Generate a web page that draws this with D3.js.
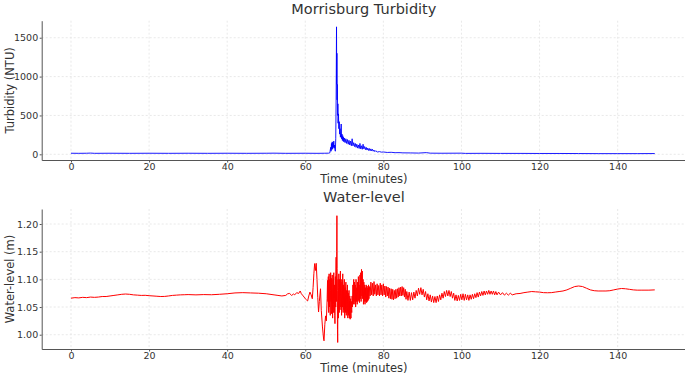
<!DOCTYPE html>
<html>
<head>
<meta charset="utf-8">
<script src="https://cdn.jsdelivr.net/npm/d3@7"></script>
<style>
  body { margin: 0; background: #fff; }
  svg text { font-family: "DejaVu Sans", sans-serif; fill: #333; }
</style>
</head>
<body>
<div id="chart"></div>
<script>
// Time ticks shared by both panels
var timeTicks = [0, 20, 40, 60, 80, 100, 120, 140];
var turbTicks = [0, 500, 1000, 1500];
var levelTicks = [1.00, 1.05, 1.10, 1.15, 1.20];

// Turbidity readings [minutes, NTU]
var turbidity = [
  [0,14],[2,13],[4,14],[5,16],[6,13],[10,14],[15,13],[20,14],[25,13],[30,14],[35,13],[40,14],[45,13],
  [50,14],[52,15],[55,13],[60,14],[63,13],[65,14],[66,15],[66.3,20],[66.5,90],[66.6,40],[66.7,140],
  [66.8,60],[66.9,160],[67.0,70],[67.1,150],[67.2,90],[67.3,170],[67.4,80],[67.5,120],[67.6,60],
  [67.7,40],[67.8,200],[67.9,700],[68.0,1640],[68.05,900],[68.1,1300],[68.15,700],[68.2,900],
  [68.3,500],[68.35,650],[68.4,400],[68.5,520],[68.6,330],[68.7,420],[68.8,260],[68.9,330],
  [69.0,220],[69.1,290],[69.2,390],[69.3,200],[69.4,260],[69.5,180],[69.6,240],[69.7,170],
  [69.8,220],[69.9,160],[70.0,210],[70.2,150],[70.4,200],[70.6,140],[70.8,190],[71.0,130],
  [71.2,180],[71.4,120],[71.6,170],[71.8,110],[72.0,200],[72.2,110],[72.4,150],[72.6,100],
  [72.8,140],[73.0,90],[73.2,130],[73.4,80],[73.6,120],[73.8,75],[74.0,140],[74.2,70],[74.4,110],
  [74.6,65],[74.8,130],[75.0,70],[75.2,100],[75.4,60],[75.6,90],[75.8,55],[76.0,80],[76.2,50],
  [76.4,75],[76.6,45],[76.8,70],[77.0,45],[77.2,65],[77.4,40],[77.6,55],[77.8,35],[78,45],
  [78.5,30],[79,35],[79.5,28],[80,30],[81,24],[82,26],[83,21],[84,22],[85,19],[87,18],[89,16],
  [91,22],[92,15],[95,14],[100,15],[101,12],[105,13],[110,12],[115,12],[120,11],[125,11],
  [130,10],[135,9],[140,9],[145,9],[149.5,10]
];

// Water-level readings [minutes, metres]
var waterLevel = [
  [0,1.066],[1,1.067],[2,1.0665],[3,1.0675],[4,1.067],[5,1.068],[6,1.0675],[7,1.068],[8,1.069],
  [9,1.069],[10,1.070],[11,1.071],[12,1.072],[13,1.073],[14,1.0735],[15,1.073],[16,1.072],
  [17,1.0715],[18,1.071],[19,1.0712],[20,1.0705],[21,1.070],[22,1.0695],[23,1.069],[24,1.0692],
  [25,1.070],[26,1.071],[27,1.0715],[28,1.072],[29,1.0722],[30,1.0725],[32,1.072],[34,1.0725],
  [36,1.0722],[38,1.073],[40,1.074],[42,1.0755],[44,1.076],[46,1.0755],[48,1.075],[50,1.074],
  [52,1.072],[53,1.071],[54,1.070],[55,1.071],[55.5,1.074],[56,1.0745],[56.5,1.071],[57,1.0735],
  [57.3,1.072],[57.8,1.076],[58.3,1.0745],[58.7,1.079],[59,1.074],[59.3,1.0715],[59.7,1.068],
  [60,1.065],[60.3,1.063],[60.6,1.061],[60.9,1.070],[61.2,1.077],[61.5,1.072],[61.8,1.065],
  [62.0,1.085],[62.2,1.110],[62.4,1.1285],[62.6,1.116],[62.8,1.129],[63.0,1.100],[63.2,1.067],
  [63.4,1.041],[63.6,1.060],[63.9,1.083],[64.1,1.044],[64.4,1.014],[64.7,0.992],[64.8,0.989],
  [65.0,1.018],[65.2,1.034],[65.4,1.025],[65.6,1.065],[65.7,1.098],
  [65.80,1.060],[65.85,1.095],[65.90,1.105],[65.95,1.050],[66.00,1.040],[66.05,1.088],
  [66.10,1.110],[66.15,1.062],[66.20,1.050],[66.25,1.092],[66.30,1.100],[66.35,1.045],
  [66.40,1.035],[66.45,1.080],[66.50,1.112],[66.55,1.070],[66.60,1.060],[66.65,1.102],
  [66.70,1.095],[66.75,1.038],[66.80,1.045],[66.85,1.098],[66.90,1.108],[66.95,1.050],
  [67.00,1.030],[67.05,1.085],[67.10,1.100],[67.15,1.040],[67.20,1.055],[67.25,1.104],
  [67.30,1.112],[67.35,1.060],[67.40,1.040],[67.45,1.078],[67.50,1.090],[67.55,1.035],
  [67.60,1.020],[67.65,1.080],[67.70,1.105],[67.75,1.058],[67.80,1.050],[67.85,1.110],
  [67.90,1.140],[67.95,1.070],[68.00,1.060],[68.05,1.150],[68.10,1.215],[68.15,1.120],
  [68.20,1.080],[68.25,1.010],[68.30,0.986],[68.35,1.060],[68.40,1.100],[68.45,1.060],
  [68.50,1.030],[68.55,1.085],[68.60,1.110],[68.65,1.065],[68.70,1.040],[68.75,1.092],
  [68.80,1.100],[68.85,1.050],[68.90,1.045],[68.95,1.098],[69.00,1.115],[69.05,1.070],
  [69.10,1.050],[69.15,1.088],[69.20,1.100],[69.25,1.048],[69.30,1.035],[69.35,1.080],
  [69.40,1.095],[69.45,1.062],[69.50,1.050],[69.55,1.100],[69.60,1.110],[69.65,1.058],
  [69.70,1.040],[69.75,1.078],[69.80,1.090],[69.85,1.045],[69.90,1.055],[69.95,1.092],
  [70.00,1.100],[70.05,1.050],[70.10,1.030],[70.15,1.070],[70.20,1.085],[70.25,1.040],
  [70.30,1.045],[70.35,1.088],[70.40,1.095],[70.45,1.050],[70.50,1.035],[70.55,1.072],
  [70.60,1.080],[70.65,1.048],[70.70,1.040],[70.75,1.082],[70.80,1.090],[70.85,1.042],
  [70.90,1.030],[70.95,1.065],[71.00,1.075],[71.05,1.045],[71.10,1.035],[71.15,1.070],
  [71.20,1.080],[71.25,1.040],[71.30,1.030],[71.35,1.062],[71.40,1.070],[71.45,1.035],
  [71.50,1.028],[71.55,1.058],[71.60,1.065],[71.65,1.038],[71.70,1.030],[71.75,1.055],
  [71.80,1.060],[71.85,1.045],[71.90,1.040],[71.95,1.062],
  [72.0,1.07],[72.1,1.05],[72.2,1.09],[72.3,1.055],[72.4,1.10],[72.5,1.06],[72.6,1.095],
  [72.7,1.055],[72.8,1.09],[72.9,1.05],[73.0,1.10],[73.1,1.06],[73.2,1.085],[73.3,1.055],
  [73.4,1.095],[73.5,1.06],[73.6,1.105],[73.7,1.062],[73.8,1.09],[73.9,1.058],[74.0,1.108],
  [74.1,1.065],[74.2,1.112],[74.3,1.06],[74.4,1.118],[74.5,1.07],[74.6,1.115],[74.7,1.065],
  [74.8,1.10],[74.9,1.055],[75.0,1.095],[75.1,1.06],[75.2,1.09],[75.3,1.055],[75.4,1.085],
  [75.5,1.06],[75.6,1.09],[75.7,1.058],[75.8,1.088],[75.9,1.06],[76.0,1.085],[76.1,1.062],
  [76.2,1.09],[76.3,1.065],[76.4,1.087],[76.6,1.07],[76.8,1.095],[77.0,1.072],[77.2,1.093],
  [77.4,1.07],[77.6,1.096],[77.8,1.073],[78.0,1.09],[78.2,1.07],[78.4,1.092],[78.6,1.072],
  [78.8,1.089],[79.0,1.07],[79.2,1.093],[79.4,1.072],[79.6,1.09],[79.8,1.07],[80.0,1.092],
  [80.2,1.072],[80.4,1.088],[80.6,1.068],[80.8,1.087],[81.0,1.07],[81.2,1.086],[81.4,1.066],
  [81.6,1.084],[81.8,1.065],[82.0,1.083],[82.2,1.064],[82.4,1.082],[82.6,1.063],[82.8,1.08],
  [83.0,1.065],[83.2,1.082],[83.4,1.066],[83.6,1.083],[83.8,1.068],[84.0,1.085],[84.2,1.07],
  [84.4,1.086],[84.6,1.07],[84.8,1.087],[85.0,1.071],[85.2,1.085],[85.4,1.068],[85.6,1.082],
  [85.8,1.064],[86.0,1.078],[86.3,1.062],[86.6,1.077],[86.9,1.062],[87.2,1.076],[87.5,1.063],
  [87.8,1.077],[88.1,1.066],[88.4,1.08],[88.7,1.07],[89.0,1.084],[89.3,1.073],[89.6,1.085],
  [89.9,1.072],[90.2,1.082],[90.5,1.068],[90.8,1.078],[91.1,1.063],[91.4,1.074],[91.7,1.061],
  [92.0,1.072],[92.3,1.059],[92.6,1.07],[92.9,1.058],[93.2,1.069],[93.5,1.058],[93.8,1.07],
  [94.1,1.06],[94.4,1.072],[94.7,1.063],[95.0,1.075],[95.3,1.066],[95.6,1.078],[95.9,1.069],
  [96.2,1.08],[96.5,1.07],[96.8,1.08],[97.1,1.069],[97.4,1.078],[97.7,1.066],[98.0,1.075],
  [98.3,1.062],[98.6,1.072],[98.9,1.061],[99.2,1.071],[99.5,1.062],[99.8,1.073],[100.1,1.063],
  [100.4,1.074],[100.7,1.062],[101.0,1.073],[101.3,1.063],[101.6,1.072],[101.9,1.062],
  [102.2,1.072],[102.5,1.064],[102.8,1.073],[103.1,1.065],[103.4,1.074],[103.7,1.067],
  [104.0,1.076],[104.3,1.068],[104.6,1.077],[104.9,1.07],[105.2,1.078],[105.5,1.071],
  [105.8,1.079],[106.1,1.072],[106.4,1.079],[106.7,1.073],[107.0,1.08],[107.3,1.073],
  [107.6,1.079],[107.9,1.073],[108.2,1.079],[108.5,1.072],[108.8,1.078],[109.1,1.072],
  [109.5,1.077],[110,1.072],[110.5,1.076],[111,1.0715],[111.5,1.075],[112,1.0715],[112.5,1.075],
  [113,1.072],[114,1.074],[115,1.0745],[116,1.076],[117,1.077],[118,1.078],[119,1.0775],
  [120,1.077],[121,1.076],[122,1.0758],[123,1.076],[124,1.077],[125,1.078],[126,1.079],
  [127,1.081],[128,1.084],[129,1.087],[130,1.088],[131,1.087],[132,1.084],[133,1.081],
  [134,1.0795],[135,1.079],[136,1.079],[137,1.079],[138,1.0795],[139,1.081],[140,1.0825],
  [141,1.0835],[142,1.083],[143,1.082],[144,1.081],[145,1.0805],[146,1.0805],[147,1.0805],
  [148,1.0805],[149.5,1.081]
];

var width = 685, height = 375;

var svg = d3.select("#chart")
    .append("svg")
    .attr("width", width)
    .attr("height", height);

// Draw one panel: box is the axes rectangle in page pixels
function drawPanel(opts) {
    var box = opts.box;

    var x = d3.scaleLinear().domain([-7.5, 157.5]).range([box.left, box.right]);
    var y = d3.scaleLinear().domain(opts.yDomain).range([box.bottom, box.top]);

    var g = svg.append("g");

    // grid
    g.append("g").selectAll("line")
        .data(timeTicks)
        .enter().append("line")
        .attr("x1", d => x(d)).attr("x2", d => x(d))
        .attr("y1", box.top).attr("y2", box.bottom)
        .attr("stroke", "#e3e3e3").attr("stroke-width", 0.8)
        .attr("stroke-dasharray", "2,2");

    g.append("g").selectAll("line")
        .data(opts.yTicks)
        .enter().append("line")
        .attr("x1", box.left).attr("x2", box.right)
        .attr("y1", d => y(d)).attr("y2", d => y(d))
        .attr("stroke", "#e3e3e3").attr("stroke-width", 0.8)
        .attr("stroke-dasharray", "2,2");

    // the series
    var line = d3.line()
        .x(d => x(d[0]))
        .y(d => y(d[1]));

    g.append("path")
        .datum(opts.data)
        .attr("d", line)
        .attr("fill", "none")
        .attr("stroke", opts.color)
        .attr("stroke-width", opts.lineWidth)
        .attr("stroke-linejoin", "round");

    // axes
    var xAxis = g.append("g")
        .attr("transform", "translate(0," + box.bottom + ")")
        .call(d3.axisBottom(x).tickValues(timeTicks).tickSize(2.5).tickPadding(0.5).tickSizeOuter(0));

    var yAxis = g.append("g")
        .attr("transform", "translate(" + box.left + ",0)")
        .call(d3.axisLeft(y).tickValues(opts.yTicks).tickFormat(opts.yFormat).tickSize(2).tickPadding(1.5).tickSizeOuter(0));

    [xAxis, yAxis].forEach(function (a) {
        a.select(".domain").attr("stroke", "#555").attr("stroke-width", 1);
        a.selectAll(".tick line").attr("stroke", "#555");
        a.selectAll(".tick text")
            .style("font-family", "DejaVu Sans")
            .style("font-size", "9.5px")
            .attr("fill", "#333");
    });

    // titles and labels
    svg.append("text")
        .attr("x", (box.left + box.right) / 2)
        .attr("y", box.top - 7)
        .attr("text-anchor", "middle")
        .style("font-size", "14.5px")
        .text(opts.title);

    svg.append("text")
        .attr("x", (box.left + box.right) / 2)
        .attr("y", box.bottom + 23)
        .attr("text-anchor", "middle")
        .style("font-size", "11.5px")
        .text("Time (minutes)");

    svg.append("text")
        .attr("transform", "translate(14," + (box.top + box.bottom) / 2 + ") rotate(-90)")
        .attr("text-anchor", "middle")
        .style("font-size", "11.5px")
        .text(opts.yLabel);
}

drawPanel({
    box: { left: 41.7, right: 686, top: 20.7, bottom: 160 },
    yDomain: [-73, 1719],
    yTicks: turbTicks,
    yFormat: d3.format("d"),
    data: turbidity,
    color: "#0000ff",
    lineWidth: 0.9,
    title: "Morrisburg Turbidity",
    yLabel: "Turbidity (NTU)"
});

drawPanel({
    box: { left: 41.7, right: 686, top: 209, bottom: 349 },
    yDomain: [0.9742, 1.2271],
    yTicks: levelTicks,
    yFormat: d3.format(".2f"),
    data: waterLevel,
    color: "#ff0000",
    lineWidth: 1,
    title: "Water-level",
    yLabel: "Water-level (m)"
});
</script>
</body>
</html>
